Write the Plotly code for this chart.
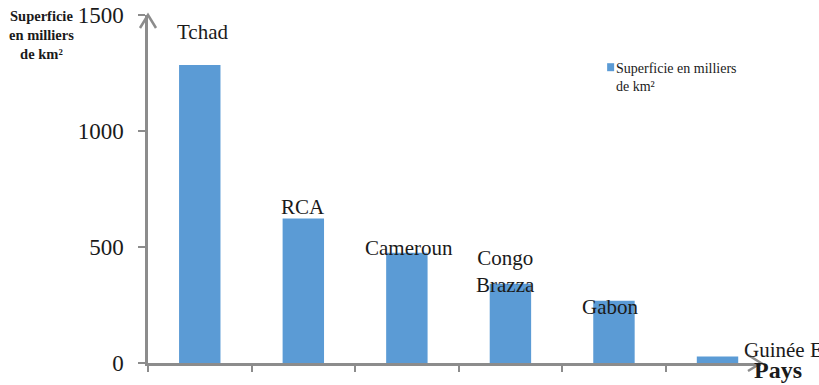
import plotly.graph_objects as go

# Superficie des pays (milliers de km²)
pays = ["Tchad", "RCA", "Cameroun", "Congo<br>Brazza", "Gabon", "Guinée Equatoriale"]
superficie = [1284, 623, 475, 342, 268, 28]
serie = "Superficie en milliers<br>de km²"

# décalage (px) des étiquettes par rapport au haut des barres
label_dy = [33, 11, 5, 12, -6, 7]
label_dx = [3, 0, 2, -5, -4, 24]

BLUE = "#5B9BD5"
GRAY = "#8C8C8C"
INK = "#1a1a1a"
FONT = "Liberation Serif"

fig = go.Figure()
fig.add_trace(go.Bar(
    x=list(range(len(pays))), y=superficie, name=serie,
    marker=dict(color=BLUE, line=dict(width=0)),
    showlegend=False,
))

for i, (p, v) in enumerate(zip(pays, superficie)):
    last = i == len(pays) - 1
    fig.add_annotation(
        x=i, y=v, xref="x", yref="y", text=p, showarrow=False,
        xanchor="left" if last else "center",
        yanchor="middle", yshift=label_dy[i], xshift=label_dx[i],
        font=dict(family=FONT, size=21, color=INK),
    )

# légende
fig.add_shape(type="rect", xref="paper", yref="paper",
              xsizemode="pixel", ysizemode="pixel", xanchor=0.749, yanchor=0.85,
              x0=0, x1=7, y0=-4, y1=4, fillcolor=BLUE, line=dict(width=0))
fig.add_annotation(
    x=0.7595, y=0.875, xref="paper", yref="paper", showarrow=False,
    xanchor="left", yanchor="top", align="left", text=serie,
    font=dict(family=FONT, size=14, color=INK),
)

# titres des axes
fig.add_annotation(
    x=-0.173, y=0.9425, xref="paper", yref="paper", showarrow=False,
    xanchor="center", yanchor="middle",
    text="<b>Superficie<br>en milliers<br>de km²</b>", align="center",
    font=dict(family=FONT, size=14.5, color=INK),
)
fig.add_annotation(
    x=1.027, y=-0.02, xref="paper", yref="paper", showarrow=False,
    xanchor="center", yanchor="middle",
    text="<b>Pays</b>", font=dict(family=FONT, size=24, color=INK),
)

# flèches au bout des axes
fig.add_shape(type="path", xref="paper", yref="paper",
              xsizemode="pixel", ysizemode="pixel", xanchor=0, yanchor=1,
              path="M -8 -13 L 0 0 L 8 -13",
              line=dict(color=GRAY, width=2.5))
fig.add_shape(type="path", xref="paper", yref="paper",
              xsizemode="pixel", ysizemode="pixel", xanchor=1, yanchor=0,
              path="M -13 8 L 0 0 L -13 -8",
              line=dict(color=GRAY, width=2.5))

fig.update_layout(
    width=819, height=385,
    margin=dict(l=148, r=58, t=15, b=22),
    paper_bgcolor="white", plot_bgcolor="white",
    bargap=0.6,
    showlegend=False,
    xaxis=dict(
        range=[-0.5, 5.42], showticklabels=False, showgrid=False,
        showline=True, linecolor=GRAY, linewidth=2.5,
        tickmode="array", tickvals=[i - 0.5 for i in range(len(pays))],
        ticks="outside", ticklen=6, tickcolor=GRAY, tickwidth=1.5,
        zeroline=False, automargin=False,
    ),
    yaxis=dict(
        range=[0, 1500], tickvals=[0, 500, 1000, 1500],
        showgrid=False, zeroline=False,
        showline=True, linecolor=GRAY, linewidth=2.5,
        ticks="outside", ticklen=7, tickcolor=GRAY, tickwidth=1.5,
        tickfont=dict(family=FONT, size=23, color=INK),
        ticklabelstandoff=10, automargin=False,
    ),
)

fig.write_html("out.html")
